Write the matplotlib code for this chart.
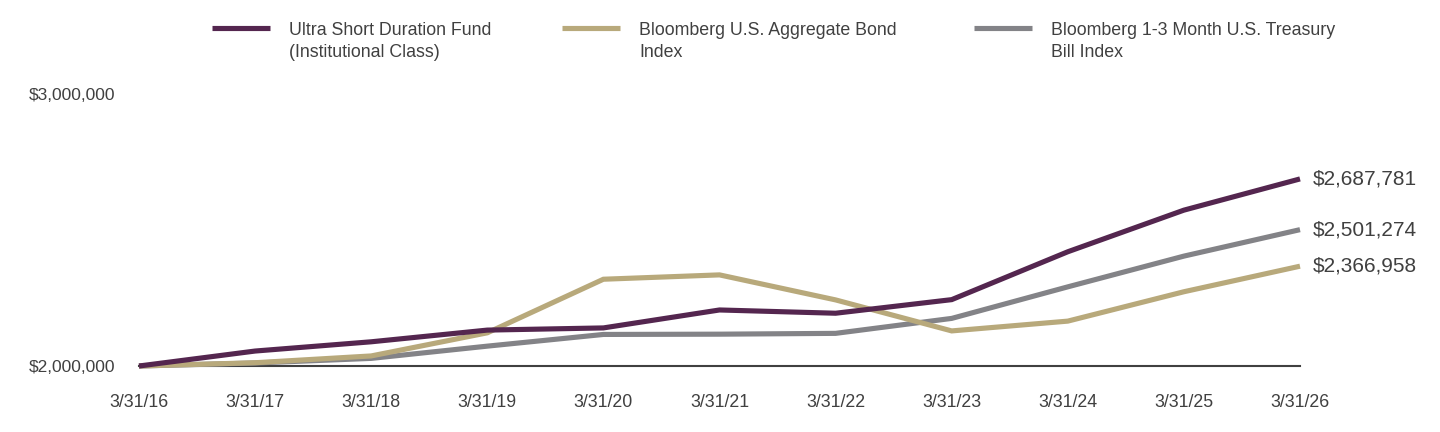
import matplotlib
matplotlib.use("Agg")
import matplotlib.pyplot as plt
from matplotlib.lines import Line2D
from matplotlib.ticker import FuncFormatter

dates = ["3/31/16", "3/31/17", "3/31/18", "3/31/19", "3/31/20", "3/31/21",
         "3/31/22", "3/31/23", "3/31/24", "3/31/25", "3/31/26"]
fund = [2000000, 2055000, 2089000, 2132000, 2140000, 2206000, 2194000,
        2244000, 2420000, 2573000, 2687781]
agg = [2000000, 2012000, 2037000, 2122000, 2319000, 2335000, 2243000,
       2129000, 2165000, 2273000, 2366958]
tbill = [2000000, 2011000, 2028000, 2073000, 2116000, 2117000, 2120000,
         2175000, 2291000, 2404000, 2501274]
yticks = [2000000, 3000000]

names = ["Ultra Short Duration Fund\n(Institutional Class)",
         "Bloomberg U.S. Aggregate Bond\nIndex",
         "Bloomberg 1-3 Month U.S. Treasury\nBill Index"]
colors = ["#54264F", "#B8A97B", "#838387"]
series = [fund, agg, tbill]

FONT = ["Liberation Sans", "DejaVu Sans"]
TXT = "#404040"

fig = plt.figure(figsize=(14.4, 4.32), dpi=100)
ax = fig.add_axes([139/1440, 1-366/432, (1300-139)/1440, (366-94)/432])

x = list(range(len(dates)))
zs = [5, 4, 3]
for s, c, z in zip(series, colors, zs):
    ax.plot(x, s, color=c, lw=3.7, zorder=z, clip_on=False,
            solid_capstyle="butt", solid_joinstyle="miter")
    ax.annotate(f"${s[-1]:,.0f}", xy=(x[-1], s[-1]), xytext=(9, 0),
                textcoords="offset points", va="center", ha="left",
                fontsize=15, color=TXT, family=FONT)

ax.set_xlim(0, len(dates) - 1)
ax.set_ylim(yticks[0], yticks[-1])
ax.set_xticks(x)
ax.set_xticklabels(dates, family=FONT, fontsize=12.8, color=TXT)
ax.set_yticks(yticks)
ax.yaxis.set_major_formatter(FuncFormatter(lambda v, p: f"${v:,.0f}"))
for lab in ax.get_yticklabels():
    lab.set_family(FONT)
    lab.set_fontsize(12.5)
    lab.set_color(TXT)
ax.tick_params(axis="x", length=0, pad=20.5)
ax.tick_params(axis="y", length=0, pad=17)
for sp in ["top", "right", "left"]:
    ax.spines[sp].set_visible(False)
ax.spines["bottom"].set_color("#404040")
ax.spines["bottom"].set_linewidth(1.5)
ax.spines["bottom"].set_zorder(1)

# legend, drawn manually (handle aligned with first text line)
leg_x = [212, 562, 974]
leg_y = 28
for lx, name, c in zip(leg_x, names, colors):
    fig.add_artist(Line2D([lx/1440, (lx+58)/1440], [1-leg_y/432, 1-leg_y/432],
                          transform=fig.transFigure, color=c, lw=3.7,
                          solid_capstyle="butt"))
    fig.text((lx+77)/1440, 1-(leg_y-6)/432, name, ha="left", va="top",
             fontsize=12.8, color=TXT, family=FONT, linespacing=1.4)

fig.savefig("out.png", dpi=100)
